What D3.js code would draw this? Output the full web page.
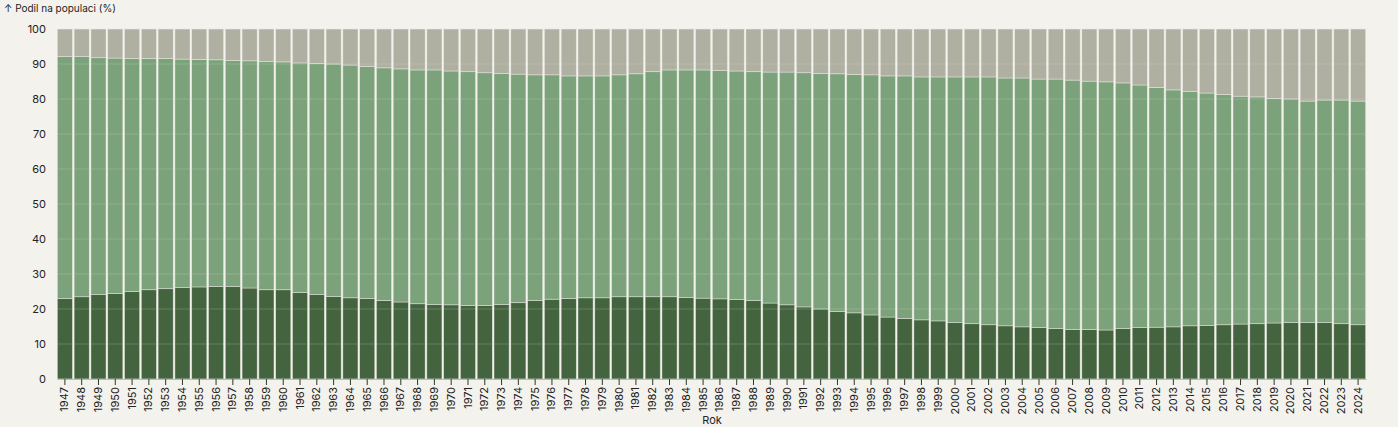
<!DOCTYPE html>
<html>
<head>
<meta charset="utf-8">
<script src="https://cdn.jsdelivr.net/npm/d3@7"></script>
<style>
  body { margin: 0; background: #f4f2ed; }
  svg { font-family: Inter, "Noto Sans", sans-serif; }
</style>
</head>
<body>
<svg id="main" width="1398" height="427"></svg>
<script>
// roky a podíly věkových skupin (% populace)
var years = d3.range(1947, 2025);
var kids = [23.0, 23.5, 24.1, 24.4, 25.0, 25.5, 25.8, 26.1, 26.3, 26.4,
    26.4, 26.0, 25.5, 25.5, 24.7, 24.1, 23.6, 23.2, 23.0, 22.4,
    22.0, 21.5, 21.3, 21.2, 21.0, 21.0, 21.3, 21.8, 22.4, 22.8,
    23.0, 23.2, 23.2, 23.5, 23.5, 23.5, 23.5, 23.3, 23.1, 22.9,
    22.7, 22.4, 21.7, 21.2, 20.6, 20.0, 19.3, 18.9, 18.3, 17.7,
    17.3, 16.9, 16.6, 16.1, 15.8, 15.5, 15.2, 14.9, 14.7, 14.4,
    14.1, 14.1, 14.0, 14.4, 14.7, 14.8, 14.9, 15.2, 15.3, 15.5,
    15.7, 15.8, 16.0, 16.1, 16.1, 16.1, 15.8, 15.5];
var working = [92.1, 92.1, 91.8, 91.7, 91.6, 91.6, 91.6, 91.4, 91.3, 91.2,
    91.0, 90.9, 90.7, 90.6, 90.3, 90.1, 90.0, 89.7, 89.3, 88.9,
    88.6, 88.3, 88.3, 88.0, 87.8, 87.5, 87.3, 87.1, 86.9, 86.9,
    86.6, 86.6, 86.6, 86.9, 87.2, 87.8, 88.3, 88.3, 88.3, 88.1,
    88.0, 87.8, 87.7, 87.7, 87.5, 87.3, 87.2, 87.0, 86.9, 86.6,
    86.6, 86.3, 86.3, 86.3, 86.3, 86.3, 86.0, 86.0, 85.7, 85.7,
    85.4, 85.1, 84.9, 84.6, 84.0, 83.3, 82.6, 82.2, 81.7, 81.3,
    80.8, 80.6, 80.2, 80.0, 79.4, 79.7, 79.7, 79.4]; // horní hranice 15-64 (kumulativně)
var yTicks = [0, 10, 20, 30, 40, 50, 60, 70, 80, 90, 100];
var colors = ["#44643f", "#7ba27a", "#afb0a1"];

var data = years.map(function(y, i) {
    return {rok: y, deti: kids[i], prac: working[i] - kids[i], senior: 100 - working[i]};
});

var margin = {top: 29, right: 31, bottom: 48, left: 57};
var svg = d3.select("#main"),
    width = +svg.attr("width") - margin.left - margin.right,
    height = +svg.attr("height") - margin.top - margin.bottom;

var xScale = d3.scaleBand()
        .domain(years)
        .range([0, width - 1])
        .paddingInner(0.1)
        .paddingOuter(0.02),
    yScale = d3.scaleLinear()
        .domain([0, 100])
        .range([height, 0]),
    g = svg.append("g")
        .attr("transform", "translate(" + margin.left + "," + margin.top + ")");

var stack = d3.stack().keys(["deti", "prac", "senior"]);
var series = stack(data);

g.append("g")
    .selectAll("g")
    .data(series)
    .join("g")
    .attr("fill", function(d, i) { return colors[i]; })
    .selectAll("rect")
    .data(function(d) { return d; })
    .join("rect")
    .attr("x", function(d) { return xScale(d.data.rok); })
    .attr("width", xScale.bandwidth())
    .attr("y", function(d) { return yScale(d[1]); })
    .attr("height", function(d) { return yScale(d[0]) - yScale(d[1]); })
    .attr("stroke", "#f4f2ed")
    .attr("stroke-opacity", 0.6)
    .attr("stroke-width", 0.7);

// mřížka přes sloupce
g.append("g")
    .selectAll("line")
    .data(yTicks)
    .join("line")
    .attr("x1", 0)
    .attr("x2", width + 2)
    .attr("y1", function(d) { return yScale(d); })
    .attr("y2", function(d) { return yScale(d); })
    .attr("stroke", "#e6e3dc")
    .attr("stroke-opacity", 0.22);

var yAxis = g.append("g")
    .call(d3.axisLeft(yScale).tickValues(yTicks).tickSize(0).tickPadding(11));
yAxis.select(".domain").remove();
yAxis.selectAll("text")
    .attr("font-size", 11)
    .attr("font-family", "Inter, sans-serif")
    .attr("fill", "#222");

var xAxis = g.append("g")
    .attr("transform", "translate(0," + height + ")")
    .call(d3.axisBottom(xScale).tickSize(6).tickSizeOuter(0));
xAxis.select(".domain").attr("stroke", "#bdbbb5");
xAxis.selectAll(".tick line").attr("stroke", "#333");
xAxis.selectAll("text")
    .attr("font-size", 11)
    .attr("font-family", "Inter, sans-serif")
    .attr("fill", "#222")
    .attr("transform", "rotate(-90)")
    .attr("text-anchor", "end")
    .attr("x", -8)
    .attr("y", 0)
    .attr("dy", "0.32em");

svg.append("text")
    .attr("x", 4)
    .attr("y", 12)
    .attr("font-size", 10)
    .attr("fill", "#222")
    .text("↑ Podil na populaci (%)");

svg.append("text")
    .attr("x", margin.left + width / 2)
    .attr("y", 424)
    .attr("text-anchor", "middle")
    .attr("font-size", 11)
    .attr("fill", "#222")
    .text("Rok");
</script>
</body>
</html>
